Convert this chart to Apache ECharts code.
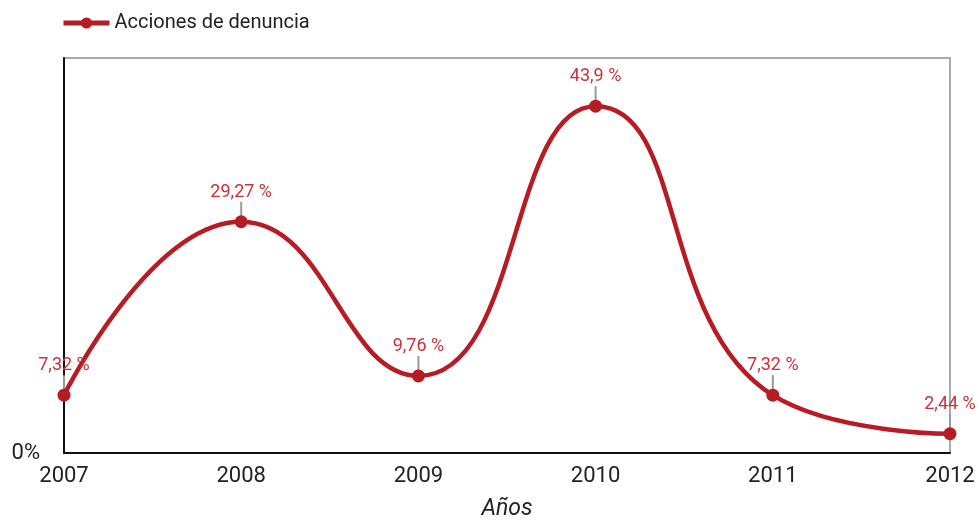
<!DOCTYPE html>
<html>
<head>
<meta charset="utf-8">
<script src="https://cdn.jsdelivr.net/npm/echarts@6/dist/echarts.min.js"></script>
<style>
  html, body { margin: 0; padding: 0; background: #fff; }
  #chart { width: 979px; height: 522px; }
</style>
</head>
<body>
<div id="chart"></div>
<script>
// Chart data
const years = ['2007', '2008', '2009', '2010', '2011', '2012'];
const denuncia = [7.32, 29.27, 9.76, 43.9, 7.32, 2.44];
const seriesName = 'Acciones de denuncia';

const red = '#b71c24';
const chart = echarts.init(document.getElementById('chart'));

function fmt(v) {
    return String(v).replace('.', ',') + ' %';
}

const option = {
    animation: false,
    backgroundColor: '#fff',
    textStyle: { fontFamily: 'Roboto, sans-serif' },
    legend: {
        left: 56,
        top: 8,
        itemWidth: 46,
        itemHeight: 14,
        itemGap: 6,
        itemStyle: { borderWidth: 0 },
        lineStyle: { width: 5 },
        textStyle: { color: '#222', fontSize: 20 },
        data: [seriesName]
    },
    grid: {
        left: 64,
        right: 29,
        top: 58,
        bottom: 69,
        outerBoundsMode: 'none',
        show: true,
        borderColor: '#aaa',
        borderWidth: 2
    },
    xAxis: {
        type: 'category',
        data: years,
        boundaryGap: false,
        name: 'Años',
        nameLocation: 'middle',
        nameGap: 45,
        nameTextStyle: { color: '#222', fontSize: 23, fontStyle: 'italic' },
        axisLine: { lineStyle: { color: '#111', width: 2 } },
        axisTick: { show: false },
        axisLabel: { color: '#222', fontSize: 22, margin: 12 },
        splitLine: { show: false }
    },
    yAxis: {
        type: 'value',
        min: 0,
        max: 50,
        interval: 50,
        axisLine: { show: true, lineStyle: { color: '#111', width: 2 } },
        axisTick: { show: false },
        axisLabel: {
            color: '#222',
            fontSize: 22,
            margin: 24,
            verticalAlign: 'middle',
            formatter: v => (v === 0 ? '0%' : '')
        },
        splitLine: { show: false }
    },
    series: [
        {
            name: seriesName,
            type: 'line',
            data: denuncia,
            smooth: 0.5,
            symbol: 'circle',
            symbolSize: 13,
            itemStyle: { color: red },
            lineStyle: { color: red, width: 4.5 },
            label: {
                show: true,
                position: 'top',
                distance: 14,
                color: '#c8323a',
                fontSize: 18,
                formatter: p => fmt(p.value)
            },
            z: 3
        },
        {
            // short grey leader lines between point and label
            type: 'custom',
            silent: true,
            data: denuncia.map((v, i) => [i, v]),
            renderItem: (params, api) => {
                const pt = api.coord([api.value(0), api.value(1)]);
                return {
                    type: 'line',
                    shape: { x1: pt[0], y1: pt[1] - 5, x2: pt[0], y2: pt[1] - 20 },
                    style: { stroke: '#999', lineWidth: 2 }
                };
            },
            z: 2
        }
    ]
};

chart.setOption(option);
</script>
</body>
</html>
